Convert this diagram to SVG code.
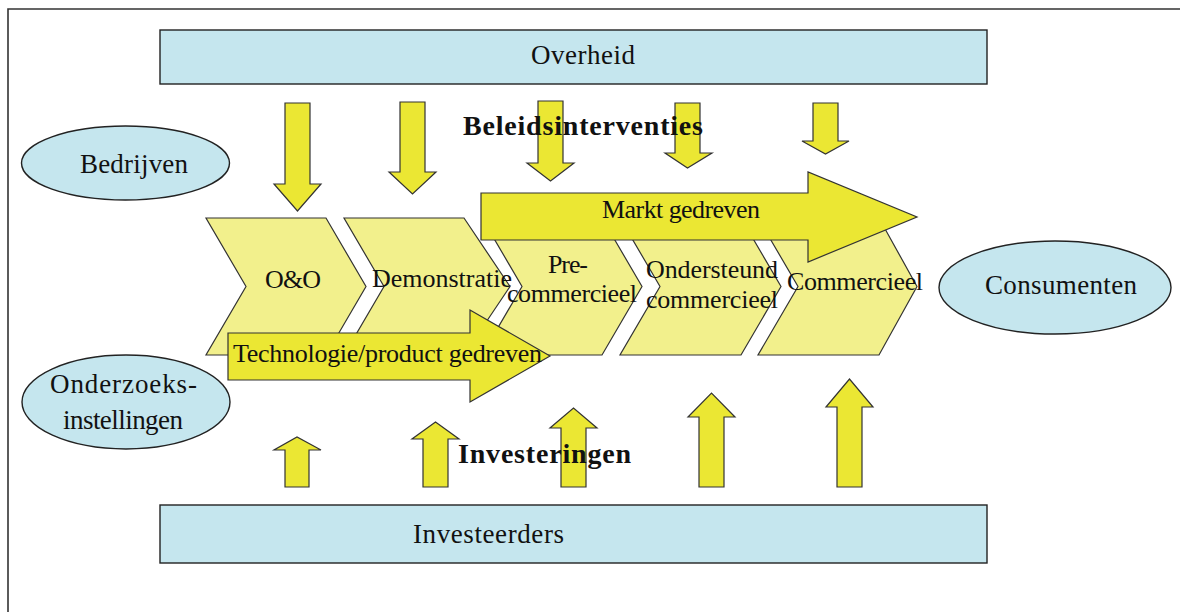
<svg xmlns="http://www.w3.org/2000/svg" width="1180" height="612" viewBox="0 0 1180 612">
  <style>
    .frame { fill: none; stroke: #333; stroke-width: 1.6; }
    .actor { fill: #c5e6ee; stroke: #222; stroke-width: 1.4; }
    .phase { fill: #f2f08c; stroke: #333; stroke-width: 1.2; }
    .flow { fill: #ebe733; stroke: #333; stroke-width: 1.2; stroke-linejoin: miter; }
    .lbl { font-family: "Liberation Serif", "Times New Roman", serif; font-size: 26px; fill: #111; }
    .big { font-family: "Liberation Serif", "Times New Roman", serif; font-size: 27px; fill: #111; }
    .bold { font-family: "Liberation Serif", "Times New Roman", serif; font-size: 28px; font-weight: bold; fill: #111; }
  </style>

  <rect width="1180" height="612" fill="#fff"/>
  <!-- page frame: only top and left edges show -->
  <path class="frame" d="M8,612 V9 H1180"/>

  <!-- actors -->
  <g id="overheid">
    <rect class="actor" x="160" y="30" width="827" height="54"/>
    <text class="big" x="531" y="64" textLength="104">Overheid</text>
  </g>
  <g id="investeerders">
    <rect class="actor" x="160" y="505" width="827" height="58"/>
    <text class="big" x="413" y="543" textLength="151">Investeerders</text>
  </g>
  <g id="bedrijven">
    <ellipse class="actor" cx="125.5" cy="163" rx="104" ry="37"/>
    <text class="big" x="80" y="173" textLength="108">Bedrijven</text>
  </g>
  <g id="onderzoeksinstellingen">
    <ellipse class="actor" cx="126" cy="402" rx="104" ry="47"/>
    <text class="big" x="50" y="393" textLength="147">Onderzoeks-</text>
    <text class="big" x="63" y="429" textLength="120">instellingen</text>
  </g>
  <g id="consumenten">
    <ellipse class="actor" cx="1055" cy="287.5" rx="116" ry="46.5"/>
    <text class="big" x="985" y="294" textLength="152">Consumenten</text>
  </g>

  <!-- innovation chain phases -->
  <g id="fase-oeno">
    <path class="phase" d="M206,218 H326 L366,286.5 L326,355 H206 L246,286.5 Z"/>
  </g>
  <g id="fase-demonstratie">
    <path class="phase" d="M344,218 H464 L510,286.5 L464,355 H344 L384,286.5 Z"/>
  </g>
  <g id="fase-precommercieel">
    <path class="phase" d="M482,218 H602 L642,286.5 L602,355 H482 L522,286.5 Z"/>
  </g>
  <g id="fase-ondersteund">
    <path class="phase" d="M620,218 H741 L781,286.5 L741,355 H620 L660,286.5 Z"/>
  </g>
  <g id="fase-commercieel">
    <path class="phase" d="M758,218 H879 L917,286.5 L879,355 H758 L798,286.5 Z"/>
  </g>

  <!-- driving forces over the chain -->
  <g id="markt-gedreven">
    <path class="flow" d="M481,193 H808 V172 L917,217 L808,262 V240 H481 Z"/>
    <text class="lbl" x="602" y="218" textLength="158">Markt gedreven</text>
  </g>
  <g id="technologie-gedreven">
    <path class="flow" d="M228,333 H470 V310 L550,356 L470,402 V380 H228 Z"/>
    <text class="lbl" x="233" y="362" textLength="309">Technologie/product gedreven</text>
  </g>

  <!-- phase labels drawn above the flows -->
  <g id="fase-labels">
    <text class="lbl" x="265" y="288" textLength="56">O&amp;O</text>
    <text class="lbl" x="372" y="287" textLength="140">Demonstratie</text>
    <text class="lbl" x="548" y="273" textLength="40">Pre-</text>
    <text class="lbl" x="507" y="302" textLength="130">commercieel</text>
    <text class="lbl" x="646" y="278" textLength="132">Ondersteund</text>
    <text class="lbl" x="646" y="308" textLength="132">commercieel</text>
    <text class="lbl" x="787" y="290" textLength="136">Commercieel</text>
  </g>

  <!-- policy interventions (down) and investments (up) -->
  <g id="connectors">
    <path class="flow" d="M285,103 H310 V184 H321 L297.5,211 L274,184 H285 Z"/>
    <path class="flow" d="M400,102 H425 V172 H436 L412.5,194 L389,172 H400 Z"/>
    <path class="flow" d="M538,101 H563 V163 H574 L550.5,181 L527,163 H538 Z"/>
    <path class="flow" d="M675,103 H700 V153 H712 L687.5,168 L665,153 H675 Z"/>
    <path class="flow" d="M813,103 H838 V141 H849 L825.5,154 L802,141 H813 Z"/>

    <path class="flow" d="M285,487 H309 V450 H321 L297,437 L274,450 H285 Z"/>
    <path class="flow" d="M423,487 H448 V439 H459 L435.5,422 L412,439 H423 Z"/>
    <path class="flow" d="M561,487 H586 V428 H597 L573.5,408 L550,428 H561 Z"/>
    <path class="flow" d="M699,487 H724 V417 H735 L711.5,393 L688,417 H699 Z"/>
    <path class="flow" d="M837,487 H862 V407 H873 L849.5,379 L826,407 H837 Z"/>
  </g>

  <g id="labels">
    <text class="bold" x="463" y="135" textLength="240">Beleidsinterventies</text>
    <text class="bold" x="458" y="463" textLength="173">Investeringen</text>
  </g>
</svg>
